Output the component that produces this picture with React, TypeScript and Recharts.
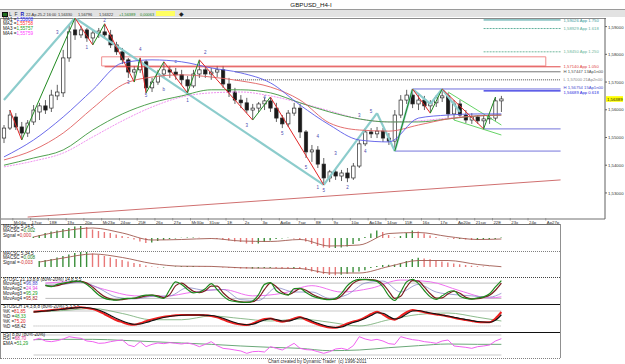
import React from "react";
import {
  ComposedChart,
  Bar,
  Line,
  XAxis,
  YAxis,
  ReferenceLine,
  ReferenceArea,
  ReferenceDot,
  Cell,
} from "recharts";

const FONT = "Liberation Sans, Arial, sans-serif";

// ---------- axis labels ----------
const dayLabels = [
  "Mr16p", "17sw", "18E", "19x", "20p", "Mr23p", "24sw", "25E", "26x", "27p",
  "Mr30p", "31sw", "1E", "2x", "3p", "Ap6p", "7sw", "8E", "9x", "10p",
  "Ap13p", "14sw", "15E", "16x", "17p", "Ap20p", "21sw", "22E", "23x", "24p", "Ap27p",
];
const dayStartSlots = [
  2, 5, 8, 11, 14, 17, 20, 23, 26, 29, 32, 35, 38, 41, 44, 47, 50, 53, 56, 59,
  62, 65, 68, 71, 74, 77, 80, 83, 86, 89, 92,
];
const priceTicks = [1.53, 1.54, 1.55, 1.56, 1.57, 1.58, 1.59];
const lastPrice = 1.56389;

// ---------- candles (one per two H4 bars) ----------
const opens = [
  1.5498, 1.5534, 1.5574, 1.5538, 1.5516, 1.5556, 1.5592, 1.5614, 1.5606, 1.565,
  1.5661, 1.5787, 1.5888, 1.587, 1.5888, 1.5859, 1.5877, 1.5881, 1.587, 1.5834,
  1.5809, 1.578, 1.5736, 1.5744, 1.5773, 1.5679, 1.57, 1.5729, 1.5744, 1.5736,
  1.5726, 1.5708, 1.5686, 1.5729, 1.5744, 1.5729, 1.5736, 1.5744, 1.5693, 1.5664,
  1.5635, 1.5625, 1.5599, 1.5606, 1.5621, 1.5632, 1.5606, 1.557, 1.5549, 1.5588,
  1.5606, 1.552, 1.5448, 1.5455, 1.5404, 1.5354, 1.5376, 1.5361, 1.5372, 1.5354,
  1.5397, 1.5477, 1.552, 1.5513, 1.5523, 1.5498, 1.5487, 1.5581, 1.5635, 1.5653,
  1.5621, 1.5635, 1.5614, 1.5625, 1.5643, 1.565, 1.5585, 1.5621, 1.5581, 1.5563,
  1.5574, 1.556, 1.5567, 1.557, 1.5632,
];
const highs = [
  1.5545, 1.5599, 1.5588, 1.5556, 1.5563, 1.5617, 1.5625, 1.5635, 1.5672, 1.569,
  1.5816, 1.5906, 1.5931, 1.5903, 1.5895, 1.5888, 1.5895, 1.591, 1.5888, 1.5845,
  1.5823, 1.5787, 1.5758, 1.5787, 1.578, 1.5715, 1.5744, 1.5773, 1.5758, 1.5751,
  1.5744, 1.5722, 1.5744, 1.578, 1.5755, 1.5751, 1.5758, 1.5758, 1.5715, 1.5679,
  1.5653, 1.5643, 1.5621, 1.5628, 1.5643, 1.5646, 1.5625, 1.5581, 1.5599, 1.5625,
  1.5621, 1.5527, 1.5473, 1.5469, 1.5426, 1.5383, 1.539, 1.5383, 1.539, 1.5408,
  1.5491, 1.5534, 1.5534, 1.5538, 1.5534, 1.5516, 1.5599, 1.5653, 1.5672, 1.5675,
  1.5653, 1.565, 1.5635, 1.5653, 1.5675, 1.5661, 1.5635, 1.5635, 1.5599, 1.5588,
  1.5581, 1.5578, 1.5581, 1.5646, 1.565,
];
const lows = [
  1.548, 1.5527, 1.5527, 1.5491, 1.5502, 1.5545, 1.5563, 1.5585, 1.5592, 1.5635,
  1.5646, 1.5773, 1.5852, 1.5859, 1.5845, 1.5834, 1.5859, 1.5859, 1.5823, 1.5798,
  1.5765, 1.5715, 1.57, 1.5733, 1.5661, 1.5664, 1.569, 1.5715, 1.5715, 1.5708,
  1.569, 1.5661, 1.5679, 1.5715, 1.5715, 1.5708, 1.5718, 1.5679, 1.5646, 1.5621,
  1.5606, 1.5588, 1.5563, 1.5592, 1.5599, 1.5592, 1.5556, 1.5534, 1.5538, 1.5578,
  1.5498, 1.5426, 1.5412, 1.539, 1.5329, 1.5339, 1.5347, 1.5343, 1.5339, 1.5347,
  1.539, 1.5469, 1.5498, 1.5498, 1.5484, 1.5473, 1.5451, 1.557, 1.5621, 1.5606,
  1.5599, 1.5599, 1.5588, 1.561, 1.5628, 1.557, 1.5563, 1.557, 1.5552, 1.5549,
  1.5549, 1.5531, 1.5549, 1.556, 1.5592,
];
const closes = [
  1.5534, 1.5581, 1.5538, 1.5516, 1.5552, 1.5599, 1.5614, 1.5599, 1.5653, 1.5664,
  1.5787, 1.5881, 1.587, 1.5888, 1.5859, 1.5877, 1.5884, 1.587, 1.5834, 1.5809,
  1.578, 1.5736, 1.5744, 1.5773, 1.5679, 1.57, 1.5729, 1.5744, 1.5736, 1.5726,
  1.5708, 1.5686, 1.5729, 1.5744, 1.5729, 1.5736, 1.5744, 1.5693, 1.5664, 1.5635,
  1.5625, 1.5599, 1.5606, 1.5621, 1.5632, 1.5606, 1.557, 1.5549, 1.5588, 1.5606,
  1.552, 1.5448, 1.5455, 1.5404, 1.5354, 1.5376, 1.5361, 1.5372, 1.5354, 1.5397,
  1.5477, 1.552, 1.5513, 1.5523, 1.5498, 1.5487, 1.5581, 1.5635, 1.5653, 1.5621,
  1.5635, 1.5614, 1.5625, 1.5643, 1.565, 1.5585, 1.5621, 1.5581, 1.5563, 1.5574,
  1.556, 1.5567, 1.557, 1.5632, 1.5639,
];

// ---------- moving averages (read at these slots) ----------
const maSlots = [0, 5, 10, 15, 20, 25, 30, 35, 40, 45, 50, 55, 60, 65, 70, 75, 80, 84];
const ma1 = [1.543, 1.5491, 1.5574, 1.5672, 1.5769, 1.578, 1.5773, 1.5751, 1.5733, 1.5697, 1.5617, 1.5545, 1.5491, 1.5484, 1.557, 1.5581, 1.5585, 1.5585];
const ma2 = [1.5419, 1.5455, 1.5516, 1.5606, 1.569, 1.5718, 1.5726, 1.5718, 1.5704, 1.5682, 1.5635, 1.5552, 1.5527, 1.5523, 1.5545, 1.5567, 1.5578, 1.5581];
const ma3 = [1.54, 1.5426, 1.5455, 1.5527, 1.5585, 1.5625, 1.565, 1.5672, 1.5672, 1.5661, 1.5625, 1.5592, 1.5567, 1.5556, 1.5556, 1.5567, 1.5578, 1.5581];
const ma4 = [1.5394, 1.5415, 1.5444, 1.5502, 1.556, 1.561, 1.5646, 1.5661, 1.5664, 1.565, 1.5625, 1.5596, 1.5567, 1.5556, 1.556, 1.557, 1.5578, 1.5581];

// ---------- swing lines ----------
const swingASlots = [1, 3, 12, 15, 17, 22, 23, 24, 27, 31, 33, 42, 45, 54];
const swingAPrices = [1.5599, 1.5491, 1.5931, 1.5834, 1.591, 1.57, 1.5787, 1.5661, 1.5773, 1.5661, 1.578, 1.5563, 1.5646, 1.5329];
const swingBSlots = [66, 69, 72, 74, 81, 83];
const swingBPrices = [1.5451, 1.5675, 1.5588, 1.5675, 1.5531, 1.5646];
const cyanSlots = [0, 12, 54, 63, 66, 69, 72, 74, 77];
const cyanPrices = [1.5635, 1.5931, 1.5329, 1.5588, 1.5451, 1.5675, 1.5621, 1.5675, 1.5592];
const wedgeFrom = [[75, 1.5664], [76, 1.5563]];
const wedgeTo = [[84, 1.5545], [84, 1.5509]];
const trendFrom = [4, 1.5213];
const trendTo = [94, 1.5347];
const boxSlots = [17, 91];
const boxPrices = [1.5758, 1.5791];

// ---------- projection levels ----------
const levelPrices = [1.5924, 1.5893, 1.5809, 1.5755, 1.5737, 1.5708, 1.5675, 1.5668, 1.5531, 1.5451];
const levelFrom = [81, 81, 81, 17, 39, 39, 69, 81, 81, 66];
const levelText = [
  "1,59026 App 1.750", "1,58929 App 1.618", "1,58450 App 1.250", "1,57140 App 1.050",
  "H 1,57447 13Ap1n00", "L 1,57000 21Ap2n00", "H 1,56754 15Ap1n00", "1,56689 App 0.618", "", "",
];
const levelEnd = 94;

// ---------- wave counts ----------
const waveSlots = [9, 14, 17, 21, 23, 24, 27, 29, 31, 34, 41, 44, 47, 51, 53, 53, 54, 56, 58, 60, 61, 62];
const wavePrices = [1.5877, 1.5823, 1.5921, 1.5697, 1.5816, 1.5653, 1.5672, 1.5773, 1.5635, 1.5805, 1.5542, 1.5643, 1.5516, 1.539, 1.5502, 1.5321, 1.531, 1.5444, 1.5321, 1.5581, 1.5448, 1.5592];
const waveText = ["3", "1", "2", "3", "4", "5", "b", "c", "1", "2", "3", "4", "5", "5", "4", "1", "5", "3", "2", "3", "4", "5"];

// ---------- MACD (in pips, x0.0001) ----------
const MACD1_FROM = 5;
const macd1Hist = [
  1.3, 3, 5, 6.5, 7.5, 9, 10, 11.5, 12, 11,
  8.5, 7, 6, 5, 3.5, 2, 1, -1.5, -3.5, -5,
  -4.5, -3, -2, -1, -0.5, 0.2, 0.5, 0.5, 0.3, 0,
  -0.5, -1, -1.5, -2.5, -3.5, -4, -5.5, -6, -5.5, -4,
  -2.5, -1, -0.5, 0.2, -0.5, -1.5, -3.5, -6, -8, -9.5,
  -10, -10, -9.5, -8.5, -6, -3, 1, 4.5, 7.5, 6,
  3, 0.5, 2, 5, 7.5, 6.5, 4.5, 2.5, 1, 0,
  -0.5, -1, -1, -1.5, -2, -2, -1.5, -1.5, -1, 0.5,
];
const macd1SigSlots = [5, 10, 15, 20, 25, 30, 35, 40, 45, 50, 55, 60, 65, 70, 75, 80, 84];
const macd1Sig = [1, 7, 10, 5, -2, -1.5, -0.5, -3, -3.5, -1.5, -8, -7, 4.5, 5.5, 1.5, -1.5, -1];

const MACD2_FROM = 6;
const macd2Hist = [
  6, 7, 8, 9.5, 11, 12.5, 14, 15, 15,
  13.5, 12, 11, 9.5, 8, 7, 5.5, 4, 3, 1.5,
  0.5, -0.5, -0.5, 0, 0.5, 0.8, 1, 1, 0.8, 0.6,
  0.5, 0, -0.5, -0.8, -1.2, -1.5, -1.6, -1.6, -1.3, -1,
  -1, -1.2, -1.5, -1.6, -1.6, -1.8, -3, -4.5, -6, -7,
  -8, -8.3, -7.8, -6.8, -5.5, -4.5, -3.3, -1, 1, 2,
  2.2, 2.4, 4, 6, 8, 9.3, 8.5, 7.7, 6.5, 5.5,
  4.5, 3.6, 2.7, 2, 1.3, 0.8, 0.5, 0.3, 0.1, 0,
];
const macd2SigSlots = [6, 10, 15, 20, 25, 30, 35, 40, 45, 50, 55, 60, 65, 70, 75, 80, 84];
const macd2Sig = [5, 9, 13, 9.5, 3.5, 0.8, 0.6, -0.8, -1.2, -1.5, -6, -6, 0.5, 6.5, 6.5, 2.5, 0.3];

// ---------- STOSC ----------
const STOSC_FROM = 7;
const stoscFast = [
  72, 66, 75, 80, 84, 88, 86, 75, 55, 33,
  20, 15, 13, 18, 20, 21, 28, 33, 33, 26,
  20, 55, 85, 75, 55, 42, 45, 58, 78, 55,
  30, 13, 8, 5, 4, 10, 35, 75, 82, 50,
  38, 33, 58, 59, 43, 30, 22, 17, 15, 20,
  40, 70, 88, 95, 94, 92, 87, 65, 30, 12,
  45, 85, 95, 78, 50, 26, 16, 30, 45, 50,
  28, 20, 17, 22, 26, 38, 65, 90,
];
const stoscSlow = [
  70, 68, 70, 77, 82, 86, 87, 80, 64, 44,
  27, 18, 14, 15, 19, 20, 24, 30, 33, 30,
  23, 35, 70, 80, 65, 48, 43, 50, 68, 68,
  42, 22, 11, 6, 5, 7, 22, 55, 80, 66,
  44, 35, 45, 58, 52, 37, 26, 19, 16, 17,
  30, 55, 80, 92, 95, 93, 90, 76, 48, 20,
  28, 65, 90, 88, 64, 38, 21, 22, 38, 48,
  40, 24, 18, 19, 24, 32, 52, 80,
];
const stoscAvgSlots = [7, 10, 13, 16, 19, 22, 25, 28, 31, 34, 37, 40, 43, 46, 49, 52, 55, 58, 61, 64, 67, 70, 73, 76, 79, 82, 84];
const stoscAvg = [72, 75, 84, 60, 25, 18, 28, 30, 62, 52, 55, 15, 12, 62, 45, 45, 20, 35, 80, 88, 45, 75, 45, 35, 30, 25, 40];
const stoscTrendSlots = [7, 12, 17, 22, 27, 32, 37, 42, 47, 52, 57, 62, 67, 72, 77, 82, 84];
const stoscTrend = [80, 86, 55, 30, 28, 45, 55, 30, 40, 70, 45, 60, 92, 85, 50, 22, 26];

// ---------- STOSCH ----------
const STOCH_FROM = 5;
const stochK = [
  77, 79, 81, 84, 86, 89, 91, 94, 95, 92,
  88, 79, 67, 55, 43, 35, 27, 25, 31, 39,
  46, 52, 57, 60, 63, 64, 64, 64, 64, 63,
  60, 55, 46, 37, 30, 26, 24, 30, 40, 48,
  50, 42, 37, 42, 50, 56, 45, 35, 26, 19,
  14, 13, 20, 30, 38, 44, 55, 68, 77, 66,
  52, 45, 60, 75, 84, 80, 75, 70, 66, 63,
  58, 53, 48, 44, 40, 36, 35, 35, 50, 76,
];
const stochD = [
  76, 78, 80, 82, 85, 87, 90, 92, 94, 93,
  90, 84, 74, 62, 50, 40, 32, 27, 28, 34,
  41, 48, 54, 58, 61, 63, 64, 64, 64, 63,
  62, 58, 51, 42, 34, 28, 25, 27, 35, 44,
  49, 46, 40, 40, 46, 53, 50, 40, 31, 23,
  17, 14, 16, 25, 34, 41, 50, 62, 73, 71,
  58, 48, 53, 68, 80, 82, 77, 72, 68, 64,
  60, 55, 50, 46, 42, 38, 36, 35, 43, 65,
];
const stochSlowSlots = [5, 10, 15, 20, 25, 30, 35, 40, 45, 50, 55, 60, 65, 70, 75, 80, 84];
const stochSlow = [75, 82, 90, 70, 45, 45, 60, 50, 40, 48, 35, 20, 45, 66, 72, 55, 40];

// ---------- RSI ----------
const RSI_FROM = 5;
const rsi = [
  65, 70, 62, 60, 63, 68, 75, 72, 70, 62,
  60, 55, 56, 60, 63, 65, 50, 45, 60, 45,
  52, 56, 54, 57, 55, 53, 56, 52, 45, 52,
  60, 48, 40, 38, 35, 32, 25, 30, 31, 29,
  45, 40, 35, 45, 55, 40, 36, 35, 30, 25,
  30, 38, 40, 36, 48, 75, 68, 64, 67, 62,
  54, 52, 75, 70, 66, 64, 60, 58, 55, 62,
  65, 47, 45, 43, 40, 45, 47, 50, 62, 69,
];
const emaSlots = [5, 10, 15, 20, 25, 30, 35, 40, 45, 50, 55, 60, 65, 70, 75, 80, 84];
const ema = [66, 67, 67, 64, 60, 56, 52, 47, 43, 40, 33, 35, 42, 48, 53, 52, 52];

// ---------- build rows ----------
const MAIN_SLOTS = 102;
const LOWER_SLOTS = 94;
const SLOT_W = 604 / MAIN_SLOTS;
const LOWER_W = 1 + LOWER_SLOTS * SLOT_W;

const at = (arr: number[], from: number, i: number) =>
  i >= from && i - from < arr.length ? arr[i - from] : null;

const mainRows: any[] = Array.from({ length: MAIN_SLOTS }, (_, i) =>
  i < opens.length
    ? { i, o: opens[i], h: highs[i], l: lows[i], c: closes[i] }
    : { i }
);
maSlots.forEach((s, k) => {
  mainRows[s].ma1 = ma1[k];
  mainRows[s].ma2 = ma2[k];
  mainRows[s].ma3 = ma3[k];
  mainRows[s].ma4 = ma4[k];
});

const lowerRows: any[] = Array.from({ length: LOWER_SLOTS }, (_, i) => ({
  i,
  m1: at(macd1Hist, MACD1_FROM, i),
  m2: at(macd2Hist, MACD2_FROM, i),
  sf: at(stoscFast, STOSC_FROM, i),
  ss: at(stoscSlow, STOSC_FROM, i),
  k: at(stochK, STOCH_FROM, i),
  d: at(stochD, STOCH_FROM, i),
  r: at(rsi, RSI_FROM, i),
}));
const knots = (key: string, slots: number[], vals: number[]) =>
  slots.forEach((s, k) => (lowerRows[s][key] = vals[k]));
knots("s1", macd1SigSlots, macd1Sig);
knots("s2", macd2SigSlots, macd2Sig);
knots("sa", stoscAvgSlots, stoscAvg);
knots("st", stoscTrendSlots, stoscTrend);
knots("sl", stochSlowSlots, stochSlow);
knots("em", emaSlots, ema);

// ---------- render helpers ----------
const Candle = (p: any) => {
  const d = p.payload;
  if (!d || d.o == null || !isFinite(p.y)) return <g />;
  const top = Math.min(p.y, p.y + p.height);
  const bot = Math.max(p.y, p.y + p.height);
  const toY = (v: number) => top + ((d.h - v) / (d.h - d.l)) * (bot - top);
  const cx = p.x + p.width / 2;
  const yo = toY(d.o);
  const yc = toY(d.c);
  const up = d.c >= d.o;
  return (
    <g>
      <line x1={cx} x2={cx} y1={top} y2={bot} stroke="#3a3a3a" strokeWidth={0.8} />
      <rect
        x={cx - 1.7}
        y={Math.min(yo, yc)}
        width={3.4}
        height={Math.max(0.8, Math.abs(yc - yo))}
        fill={up ? "#ffffff" : "#1a1a1a"}
        stroke="#2a2a2a"
        strokeWidth={0.7}
      />
    </g>
  );
};

const DayTick = (p: any) => {
  const k = dayStartSlots.indexOf(p.payload.value);
  if (k < 0) return <g />;
  const bx = p.x - SLOT_W / 2;
  return (
    <g>
      <line x1={bx} x2={bx} y1={p.y - 1} y2={p.y + 1.5} stroke="#707070" strokeWidth={0.6} />
      <text x={bx + 1} y={p.y + 4.6} fontSize={4.3} fill="#303030" fontFamily={FONT}>
        {dayLabels[k]}
      </text>
    </g>
  );
};

const PriceTick = (p: any) => (
  <text x={p.x} y={p.y + 1.6} fontSize={4.3} fill="#303030" fontFamily={FONT}>
    {Number(p.payload.value).toFixed(5).replace(".", ",")}
  </text>
);

const LevelLabel = (p: any) => {
  const vb = p.viewBox || {};
  if (!p.text) return <g />;
  return (
    <text x={(vb.x ?? 0) + (vb.width ?? 0) + 3} y={(vb.y ?? 0) + 1.6 + (p.dy || 0)} fontSize={4.2} fill={p.color} fontFamily={FONT}>
      {p.text}
    </text>
  );
};

const LastPriceLabel = (p: any) => {
  const vb = p.viewBox || {};
  const x = (vb.x ?? 0) + (vb.width ?? 0) + 1;
  return (
    <g>
      <rect x={x} y={(vb.y ?? 0) - 2.8} width={17} height={5.6} fill="#ffff00" />
      <text x={x + 1} y={(vb.y ?? 0) + 1.6} fontSize={4.3} fill="#202020" fontFamily={FONT}>
        {lastPrice.toFixed(5).replace(".", ",")}
      </text>
    </g>
  );
};

const levelColors = ["#3a9a9a", "#60b09c", "#70b89c", "#e04848", "#505050", "#8a8a8a", "#4848d0", "#2a2ae0", "#5050d0", "#5050d0"];
const levelDash = ["", "2 1", "2 1", "", "", "1 1", "", "", "", ""];
const levelWidth = [1, 1, 1, 1, 0.8, 1.6, 0.8, 1.2, 0.8, 0.8];
const levelDy = [0, 0, 0, 0, 0, 0, -1.6, 1.8, 0, 0];

const histColor = (key: string, k: number) => {
  const v = lowerRows[k][key];
  const prev = k > 0 ? lowerRows[k - 1][key] : null;
  return prev == null || v >= prev ? "#3b8f3b" : "#e87878";
};

const segs = (slots: number[], prices: number[]) =>
  slots.slice(1).map((s, k) => ({ x1: slots[k], y1: prices[k], x2: s, y2: prices[k + 1] }));

const Legend = ({ top, left, lines }: { top: number; left: number; lines: [string, string, string][] }) => (
  <div style={{ position: "absolute", top, left, fontSize: 4.6, lineHeight: "4.9px", fontFamily: FONT, color: "#202020", whiteSpace: "nowrap" }}>
    {lines.map(([a, b, c], k) => (
      <div key={k}>
        {a}
        <span style={{ color: c }}>{b}</span>
      </div>
    ))}
  </div>
);

const hLine = (top: number, style: string, left = 0, width = 560) => (
  <div style={{ position: "absolute", top, left, width, height: 0, borderTop: style }} />
);

const lowerProps = {
  width: LOWER_W,
  data: lowerRows,
  margin: { top: 0, right: 0, bottom: 0, left: 1 },
  barCategoryGap: 0,
};

export default function App() {
  const swingSegs = [...segs(swingASlots, swingAPrices), ...segs(swingBSlots, swingBPrices)];
  const cyanSegs = segs(cyanSlots, cyanPrices);
  return (
    <div style={{ position: "absolute", left: 0, top: 0, width: 625, height: 364, background: "#fff", overflow: "hidden", fontFamily: FONT }}>
      {/* title + toolbar */}
      <div style={{ position: "absolute", top: 1, left: 0, width: 622, textAlign: "center", fontSize: 6.2, color: "#111" }}>GBPUSD_H4-I</div>
      {hLine(9, "1px solid #9a9a9a", 0, 625)}
      <div style={{ position: "absolute", top: 10, left: 0, width: 625, height: 7, background: "#e2e2e2" }} />
      <div style={{ position: "absolute", top: 11.5, left: 2, width: 3.5, height: 3.5, background: "#1f6f1f", border: "0.5px solid #111" }} />
      <div style={{ position: "absolute", top: 11, left: 9, fontSize: 5, color: "#333", whiteSpace: "nowrap" }}>
        L&nbsp;&nbsp;F&nbsp;&nbsp;<b style={{ color: "#2020c0" }}>R</b>
      </div>
      {[
        [26, "22-Ap-25-2 16:00", "#303030"],
        [58, "1,56330", "#303030"],
        [78, "1,56796", "#303030"],
        [99, "1,56322", "#303030"],
        [119, "+1,56389", "#208020"],
        [140, "0,00063", "#208020"],
      ].map(([x, t, c], k) => (
        <div key={k} style={{ position: "absolute", top: 11.5, left: x as number, fontSize: 3.9, color: c as string, whiteSpace: "nowrap" }}>
          {t}
        </div>
      ))}
      <div style={{ position: "absolute", top: 11, left: 156, width: 19, height: 5, background: "#ffff60" }} />
      <div style={{ position: "absolute", top: 10, left: 179, fontSize: 6, color: "#222" }}>◆</div>
      {hLine(17.5, "1px solid #8a8a8a", 0, 606)}

      {/* main price panel */}
      <div style={{ position: "absolute", top: 18, left: 0 }}>
        <ComposedChart width={625} height={207} data={mainRows} margin={{ top: 0, right: 0, bottom: 0, left: 1 }} barCategoryGap={0} barGap={0}>
          <XAxis dataKey="i" scale="band" interval={0} height={6} tick={<DayTick />} tickLine={false} tickSize={0} tickMargin={0} axisLine={{ stroke: "#707070" }} />
          <YAxis orientation="right" width={20} domain={[1.5206, 1.5931]} ticks={priceTicks} allowDataOverflow tick={<PriceTick />} tickSize={2} tickMargin={1} tickLine={{ stroke: "#606060" }} axisLine={{ stroke: "#606060" }} />
          <ReferenceArea x1={boxSlots[0]} x2={boxSlots[1]} y1={boxPrices[0]} y2={boxPrices[1]} fill="none" fillOpacity={0} stroke="#f08c8c" strokeWidth={1} ifOverflow="visible" />
          <ReferenceLine segment={[{ x: trendFrom[0], y: trendFrom[1] }, { x: trendTo[0], y: trendTo[1] }]} stroke="#d07070" strokeWidth={1} ifOverflow="visible" />
          {levelPrices.map((p, k) => (
            <ReferenceLine
              key={"lv" + k}
              segment={[{ x: levelFrom[k], y: p }, { x: levelEnd, y: p }]}
              stroke={levelColors[k]}
              strokeWidth={levelWidth[k]}
              strokeDasharray={levelDash[k] || undefined}
              ifOverflow="visible"
              label={<LevelLabel text={levelText[k]} color={levelColors[k]} dy={levelDy[k]} />}
            />
          ))}
          {cyanSegs.map((s, k) => (
            <ReferenceLine key={"cy" + k} segment={[{ x: s.x1, y: s.y1 }, { x: s.x2, y: s.y2 }]} stroke="#8ccccc" strokeWidth={2.2} ifOverflow="visible" />
          ))}
          {wedgeFrom.map((f, k) => (
            <ReferenceLine key={"wg" + k} segment={[{ x: f[0], y: f[1] }, { x: wedgeTo[k][0], y: wedgeTo[k][1] }]} stroke="#66d466" strokeWidth={1} ifOverflow="visible" />
          ))}
          <Line dataKey="ma4" type="monotone" connectNulls dot={false} stroke="#ee88ee" strokeWidth={0.9} strokeDasharray="2 1" isAnimationActive={false} />
          <Line dataKey="ma3" type="monotone" connectNulls dot={false} stroke="#3c963c" strokeWidth={0.9} isAnimationActive={false} />
          <Line dataKey="ma2" type="monotone" connectNulls dot={false} stroke="#e06060" strokeWidth={0.9} isAnimationActive={false} />
          <Line dataKey="ma1" type="monotone" connectNulls dot={false} stroke="#5a5ae8" strokeWidth={0.9} isAnimationActive={false} />
          <Bar dataKey={(d: any) => (d.o == null ? null : [d.l, d.h])} shape={(p: any) => <Candle {...p} />} isAnimationActive={false} />
          {swingSegs.map((s, k) => (
            <ReferenceLine key={"zz" + k} segment={[{ x: s.x1, y: s.y1 }, { x: s.x2, y: s.y2 }]} stroke={s.y2 < s.y1 ? "#e02424" : "#208a20"} strokeWidth={1} ifOverflow="visible" />
          ))}
          {waveSlots.map((s, k) => (
            <ReferenceDot
              key={"wv" + k}
              x={s}
              y={wavePrices[k]}
              r={1}
              ifOverflow="visible"
              shape={(p: any) => (
                <text x={p.cx} y={p.cy + 1.5} textAnchor="middle" fontSize={4.5} fill="#4a4ab0" fontFamily={FONT}>
                  {waveText[k]}
                </text>
              )}
            />
          ))}
          <ReferenceLine y={lastPrice} stroke="none" ifOverflow="visible" label={<LastPriceLabel />} />
        </ComposedChart>
      </div>
      <Legend
        top={17.5}
        left={3}
        lines={[
          ["MA1 =", "1,55808", "#2a2aff"],
          ["MA2 =", "1,55758", "#ff3030"],
          ["MA3 =", "1,55757", "#20a020"],
          ["MA4 =", "1,55759", "#ff40ff"],
        ]}
      />

      {/* MACD 1 */}
      {hLine(224, "1px solid #707070")}
      <div style={{ position: "absolute", top: 224, left: 0 }}>
        <ComposedChart {...lowerProps} height={26}>
          <XAxis dataKey="i" scale="band" hide />
          <YAxis hide domain={[-12, 14]} allowDataOverflow />
          <Bar dataKey="m1" barSize={1.4} isAnimationActive={false}>
            {lowerRows.map((_, k) => (
              <Cell key={k} fill={histColor("m1", k)} />
            ))}
          </Bar>
          <Line dataKey="s1" type="monotone" connectNulls dot={false} stroke="#a05a50" strokeWidth={0.9} isAnimationActive={false} />
        </ComposedChart>
      </div>
      <Legend top={224.5} left={3} lines={[["MACSC 5,14,5", "", ""], ["MACSC =", "0,002", "#208020"], ["Signal =", "0,000", "#d03030"]]} />

      {/* MACD 2 */}
      {hLine(251, "1px dotted #808080")}
      <div style={{ position: "absolute", top: 251, left: 0 }}>
        <ComposedChart {...lowerProps} height={26}>
          <XAxis dataKey="i" scale="band" hide />
          <YAxis hide domain={[-10, 16]} allowDataOverflow />
          <Bar dataKey="m2" barSize={1.4} isAnimationActive={false}>
            {lowerRows.map((_, k) => (
              <Cell key={k} fill={histColor("m2", k)} />
            ))}
          </Bar>
          <Line dataKey="s2" type="monotone" connectNulls dot={false} stroke="#a05a50" strokeWidth={0.9} isAnimationActive={false} />
        </ComposedChart>
      </div>
      <Legend top={251.5} left={3} lines={[["MACSC 5,34,5", "", ""], ["MACSC =", "0,008", "#208020"], ["Signal =", "-0,003", "#d03030"]]} />

      {/* STOSC */}
      {hLine(277, "1px dotted #404040")}
      <div style={{ position: "absolute", top: 277, left: 0 }}>
        <ComposedChart {...lowerProps} height={27}>
          <XAxis dataKey="i" scale="band" hide />
          <YAxis hide domain={[-2, 104]} allowDataOverflow />
          <ReferenceLine segment={[{ x: STOSC_FROM, y: 80 }, { x: 84, y: 80 }]} stroke="#bdbdbd" />
          <ReferenceLine segment={[{ x: STOSC_FROM, y: 20 }, { x: 84, y: 20 }]} stroke="#bdbdbd" />
          <Line dataKey="st" type="monotone" connectNulls dot={false} stroke="#f070f0" strokeWidth={1} isAnimationActive={false} />
          <Line dataKey="sa" type="monotone" connectNulls dot={false} stroke="#8a8ac8" strokeWidth={0.8} isAnimationActive={false} />
          <Line dataKey="ss" type="monotone" dot={false} stroke="#7a1e1e" strokeWidth={1.2} isAnimationActive={false} />
          <Line dataKey="sf" type="monotone" dot={false} stroke="#1f8a1f" strokeWidth={1.2} isAnimationActive={false} />
        </ComposedChart>
      </div>
      <Legend
        top={277.5}
        left={3}
        lines={[
          ["STOSC 21,13,8,8 (80%-20%) 14,8,5,5", "", ""],
          ["MovAvg1 =", "96,88", "#4a4ad0"],
          ["MovAvg2 =", "24,94", "#e040e0"],
          ["MovAvg3 =", "95,29", "#20a020"],
          ["MovAvg4 =", "95,82", "#a02020"],
        ]}
      />

      {/* STOSCH */}
      {hLine(304, "1.5px solid #111")}
      <div style={{ position: "absolute", top: 305, left: 0 }}>
        <ComposedChart {...lowerProps} height={27}>
          <XAxis dataKey="i" scale="band" hide />
          <YAxis hide domain={[-4, 104]} allowDataOverflow />
          <ReferenceLine segment={[{ x: STOCH_FROM, y: 80 }, { x: 84, y: 80 }]} stroke="#c8c8c8" />
          <ReferenceLine segment={[{ x: STOCH_FROM, y: 20 }, { x: 84, y: 20 }]} stroke="#a8a8a8" strokeDasharray="1 1" />
          <Line dataKey="sl" type="monotone" connectNulls dot={false} stroke="#70aa70" strokeWidth={0.8} isAnimationActive={false} />
          <Line dataKey="k" type="monotone" dot={false} stroke="#f02020" strokeWidth={2} isAnimationActive={false} />
          <Line dataKey="d" type="monotone" dot={false} stroke="#111111" strokeWidth={1.2} isAnimationActive={false} />
        </ComposedChart>
      </div>
      <Legend
        top={305}
        left={3}
        lines={[
          ["STOSCH 14,3,8,8 (80%-20%) 5,3,5,5", "", ""],
          ["%K =", "81,85", "#e02020"],
          ["%D =", "48,33", "#20a020"],
          ["%K =", "75,20", "#e02020"],
          ["%D =", "68,42", "#202020"],
        ]}
      />

      {/* RSI */}
      {hLine(331.5, "1.5px solid #111")}
      <div style={{ position: "absolute", top: 332, left: 0 }}>
        <ComposedChart {...lowerProps} height={25}>
          <XAxis dataKey="i" scale="band" hide />
          <YAxis hide domain={[14, 89]} allowDataOverflow />
          <ReferenceLine segment={[{ x: RSI_FROM, y: 80 }, { x: 84, y: 80 }]} stroke="#c8c8c8" />
          <ReferenceLine segment={[{ x: RSI_FROM, y: 20 }, { x: 84, y: 20 }]} stroke="#c8c8c8" />
          <Line dataKey="em" type="monotone" connectNulls dot={false} stroke="#6aa878" strokeWidth={1} isAnimationActive={false} />
          <Line dataKey="r" type="linear" dot={false} stroke="#f060f0" strokeWidth={1} isAnimationActive={false} />
        </ComposedChart>
      </div>
      <Legend top={332.5} left={3} lines={[["RSI 8,80 (80%-20%)", "", ""], ["RSI =", "68,70", "#e03090"], ["EMA =", "51,29", "#20a020"]]} />
      {hLine(357.5, "1px dotted #808080")}

      {/* frame */}
      <div style={{ position: "absolute", top: 18, left: 0, width: 0, height: 340, borderLeft: "1px solid #909090" }} />
      <div style={{ position: "absolute", top: 224, left: 560, width: 0, height: 134, borderLeft: "1px solid #909090" }} />
      <div style={{ position: "absolute", top: 358.5, left: 268, fontSize: 4.6, color: "#303030", whiteSpace: "nowrap" }}>
        Chart created by Dynamic Trader&nbsp; (c) 1996-2011
      </div>
    </div>
  );
}
